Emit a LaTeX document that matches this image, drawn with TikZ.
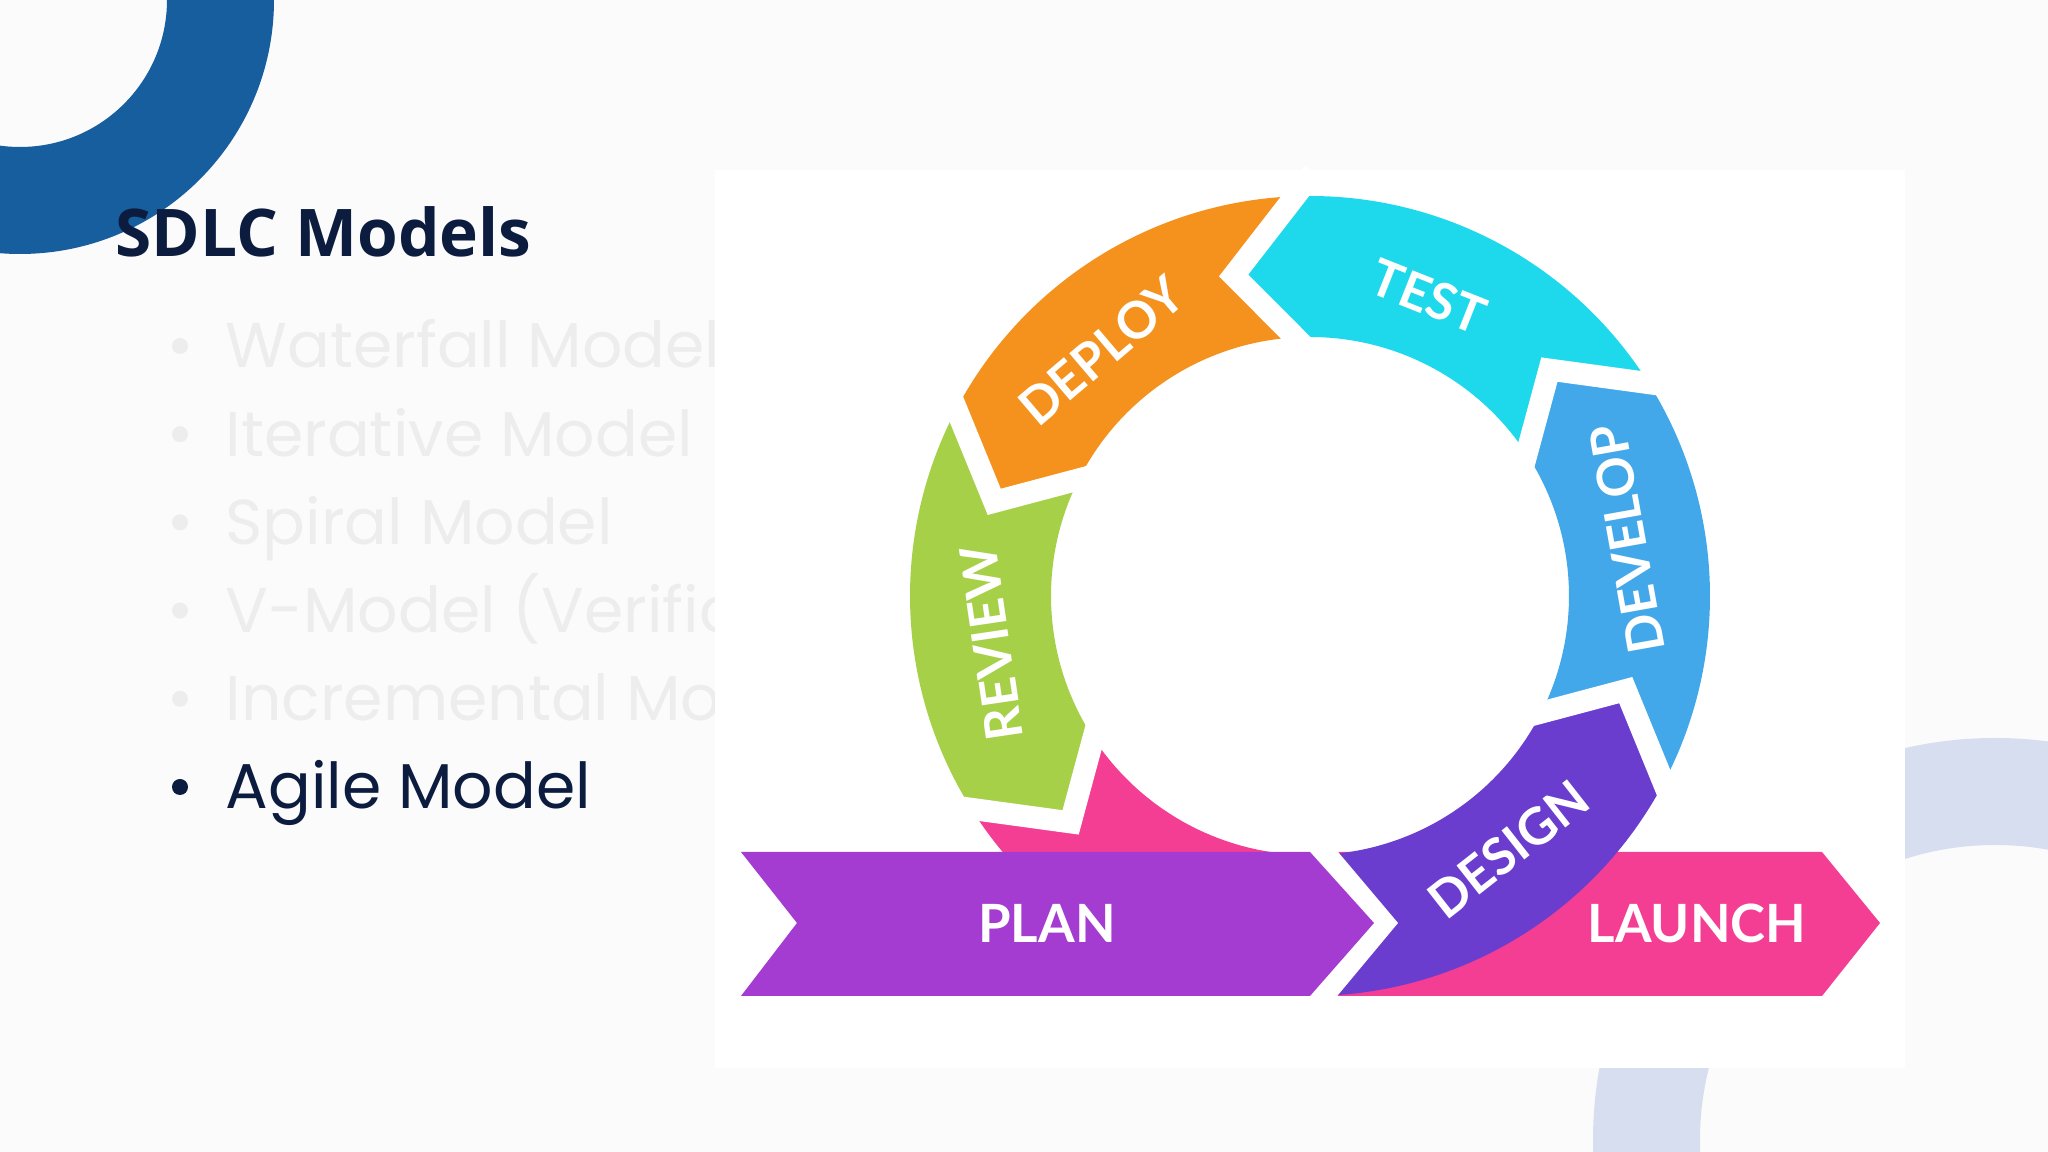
\documentclass[tikz,border=0pt]{standalone}
\usepackage{fontspec}
\newfontfamily\headfont{Open Sans}
\newfontfamily\listfont{Poppins}
\newfontfamily\wheelfont{Lato}
\definecolor{slide}{HTML}{FBFBFC}
\definecolor{navy}{HTML}{0B1C3F}
\definecolor{faded}{HTML}{EDEDEE}
\definecolor{cornerblue}{HTML}{175E9E}
\definecolor{paleblue}{HTML}{D6DEF0}
\definecolor{deploycol}{HTML}{F5921E}
\definecolor{testcol}{HTML}{1ED9EC}
\definecolor{developcol}{HTML}{42A8E9}
\definecolor{designcol}{HTML}{6A3DCF}
\definecolor{reviewcol}{HTML}{A6D047}
\definecolor{pinkcol}{HTML}{F33E94}
\definecolor{plancol}{HTML}{A43CD1}
\usetikzlibrary{calc}
\tikzset{
  bulletdot/.style={circle,inner sep=0pt,minimum size=1.6mm},
  itemtxt/.style={anchor=base west,inner sep=0pt,font=\listfont\fontsize{18}{20}\selectfont},
  seglbl/.style={text=white,inner sep=0pt,font=\wheelfont\bfseries\fontsize{14.5}{15}\selectfont},
  barlbl/.style={text=white,inner sep=0pt,font=\wheelfont\bfseries\fontsize{15}{15}\selectfont},
  gapline/.style={white,line width=2.2mm,line join=miter}
}

\begin{document}
\begin{tikzpicture}[x=0.01cm,y=0.01cm]
    \useasboundingbox (0,0) rectangle (2048,1152);
    \clip (0,0) rectangle (2048,1152);
    \fill[slide] (0,0) rectangle (2048,1152);
    % decorative rings
    \fill[cornerblue,even odd rule] (20,1152) circle[radius=254] (20,1152) circle[radius=147];
    \fill[paleblue,even odd rule] (1995,12) circle[radius=402] (1995,12) circle[radius=295];
    % heading and list
    \node[anchor=base west,inner sep=0pt,text=navy,font=\headfont\bfseries\fontsize{18.7}{20}\selectfont]
         (title) at (115,895) {SDLC Models};
    \foreach \i/\txt/\col in {0/Waterfall Model/faded, 1/Iterative Model/faded, 2/Spiral Model/faded,
        3/V-Model (Verification/faded, 4/Incremental Model/faded, 5/Agile Model/navy}{
      \node[bulletdot,fill=\col] (dot\i) at (180,{806-88.2*\i}) {};
      \node[itemtxt,text=\col] (item\i) at (225,{784-88.2*\i}) {\txt};
    }
    % picture area
    \fill[white] (715,84) rectangle (1905,982);
    \fill[pinkcol] (1320,300) -- (1822,300) -- (1880,229) -- (1822,156) -- (1320,156) -- cycle;
    % wheel
    \coordinate (c) at (1310,556);
    \def\Ro{400} \def\Rm{329.5} \def\Ri{259}
    \foreach \a/\b/\col in {-29.6/30.4/developcol, 30.4/90.4/testcol, 90.4/150.4/deploycol, 150.4/210.4/reviewcol}{
      \fill[\col] ($(c)+({\a+1.75}:\Ro)$) arc[start angle=\a+1.75, end angle=\b+1.75, radius=\Ro]
          -- ($(c)+({\b+13}:\Rm)$) -- ($(c)+({\b+2.85}:\Ri)$)
          arc[start angle=\b+2.85, end angle=\a+2.85, radius=\Ri]
          -- ($(c)+({\a+13}:\Rm)$) -- cycle;
    }
    \fill[designcol] ($(c)+(272:\Ro)$) arc[start angle=272, end angle=332.15, radius=\Ro]
          -- ($(c)+(343.4:\Rm)$) -- ($(c)+(333.25:\Ri)$)
          arc[start angle=333.25, end angle=272, radius=\Ri] -- cycle;
    \fill[pinkcol] ($(c)+(212.15:\Ro)$) arc[start angle=212.15, end angle=272, radius=\Ro]
          -- ($(c)+(272:\Ri)$) arc[start angle=272, end angle=213.25, radius=\Ri]
          -- ($(c)+(223.4:\Rm)$) -- cycle;
    \foreach \a in {-29.6,30.4,90.4,150.4,210.4}{
      \coordinate (bo) at ($(c)+({\a+1.75}:\Ro)$);
      \coordinate (bm) at ($(c)+({\a+13}:\Rm)$);
      \coordinate (bi) at ($(c)+({\a+2.85}:\Ri)$);
      \draw[gapline] ($(bm)!1.3!(bo)$) -- (bm) -- ($(bm)!1.3!(bi)$);
    }
    \fill[white] (1310,306) -- (1333,306) -- (1398,229) -- (1333,151) -- (1310,151) -- cycle;
    \fill[plancol] (741,300) -- (1310,300) -- (1374,229) -- (1310,156) -- (741,156) -- (797,229) -- cycle;
    % labels
    \node[seglbl,rotate=-21.6] (ltest) at ($(c)+(68.4:322)$) {TEST};
    \node[seglbl,rotate=40.4] (ldeploy) at ($(c)+(130.4:322)$) {DEPLOY};
    \node[seglbl,rotate=98.4] (lreview) at ($(c)+(188.4:322)$) {REVIEW};
    \node[seglbl,rotate=100.1] (ldevelop) at ($(c)+(10.1:322)$) {DEVELOP};
    \node[seglbl,rotate=38.1] (ldesign) at ($(c)+(308.1:322)$) {DESIGN};
    \node[barlbl] (lplan) at (1047,229) {PLAN};
    \node[barlbl] (llaunch) at (1697,229) {LAUNCH};
\end{tikzpicture}
\end{document}
